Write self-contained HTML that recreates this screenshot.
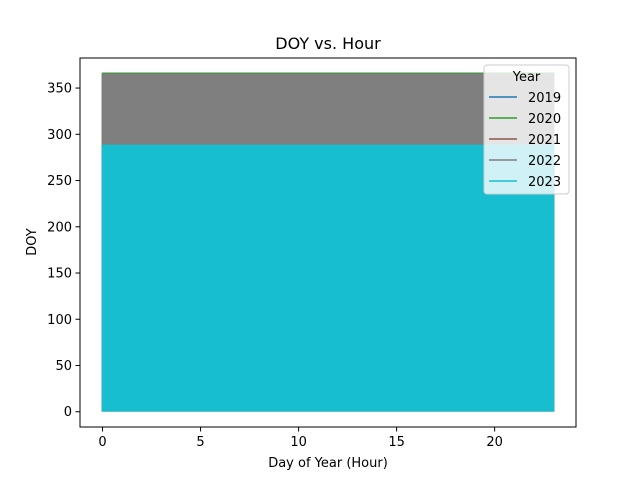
<!DOCTYPE html>
<html><head><meta charset="utf-8"><style>
body{margin:0;background:#fff}
svg{display:block;font-family:"DejaVu Sans","Liberation Sans",sans-serif}
</style></head><body>
<svg id="chart" width="640" height="480">
<rect width="640" height="480" fill="#fff"/>
<g id="plot"></g>
<g id="axes"></g>
<text x="328" y="49" font-size="16" text-anchor="middle">DOY vs. Hour</text>
<text x="328" y="467" font-size="13" text-anchor="middle">Day of Year (Hour)</text>
<text transform="translate(36,242) rotate(-90)" font-size="13" text-anchor="middle">DOY</text>
<g id="legend"></g>
</svg>
<script>
const years=["2019","2020","2021","2022","2023"];
const colors=["#1f77b4","#2ca02c","#8c564b","#7f7f7f","#17becf"];
const minDoy=[1,1,1,1,1];
const maxDoy=[365,366,365,365,288];
const hourMin=[0,0,0,0,0];
const hourMax=[23,23,23,23,23];
const xTicks=[0,5,10,15,20];
const yTicks=[0,50,100,150,200,250,300,350];
const L=80,R=576,T=58,B=427;
const xmin=-1.15,xmax=24.15,ymin=-16.5,ymax=382.5;
const X=v=>L+(v-xmin)/(xmax-xmin)*(R-L);
const Y=v=>B-(v-ymin)/(ymax-ymin)*(B-T);
const NS="http://www.w3.org/2000/svg";
function mk(t,a,p){const e=document.createElementNS(NS,t);for(const k in a)e.setAttribute(k,a[k]);p.appendChild(e);return e;}
const plot=document.getElementById('plot');
years.forEach((y,i)=>{
 const r=mk('rect',{x:X(hourMin[i]),y:Y(maxDoy[i]),width:X(hourMax[i])-X(hourMin[i]),height:Y(minDoy[i])-Y(maxDoy[i]),fill:colors[i],stroke:colors[i],'stroke-width':1.5},plot);
 
 
});
const ax=document.getElementById('axes');
const fr=mk('rect',{x:L,y:T,width:R-L,height:B-T,fill:'none',stroke:'#000','stroke-width':1},ax);


xTicks.forEach(v=>{
 const l=mk('line',{x1:X(v),x2:X(v),y1:B,y2:B+4.5,stroke:'#000','stroke-width':1},ax);
 
 
 const t=mk('text',{x:X(v),y:B+19,'font-size':13,'text-anchor':'middle'},ax);t.textContent=v;
 
 
});
yTicks.forEach(v=>{
 const l=mk('line',{x1:L-4.5,x2:L,y1:Y(v),y2:Y(v),stroke:'#000','stroke-width':1},ax);
 
 
 const t=mk('text',{x:L-8,y:Y(v)+4.5,'font-size':13,'text-anchor':'end'},ax);t.textContent=v;
 
 
});
const lg=document.getElementById('legend');


mk('rect',{x:484,y:65,width:85,height:129,rx:3,fill:'#fff','fill-opacity':0.8,stroke:'#ccc'},lg);
const lt=mk('text',{x:526.5,y:81,'font-size':13,'text-anchor':'middle'},lg);lt.textContent='Year';
years.forEach((y,i)=>{
 const cy=97+i*21;
 const g=mk('g',{},lg);
 
 
 mk('line',{x1:489,x2:517,y1:cy,y2:cy,stroke:colors[i],'stroke-width':1.5},g);
 const t=mk('text',{x:528,y:cy+5,'font-size':13},g);t.textContent=y;
});
</script>
</body></html>
